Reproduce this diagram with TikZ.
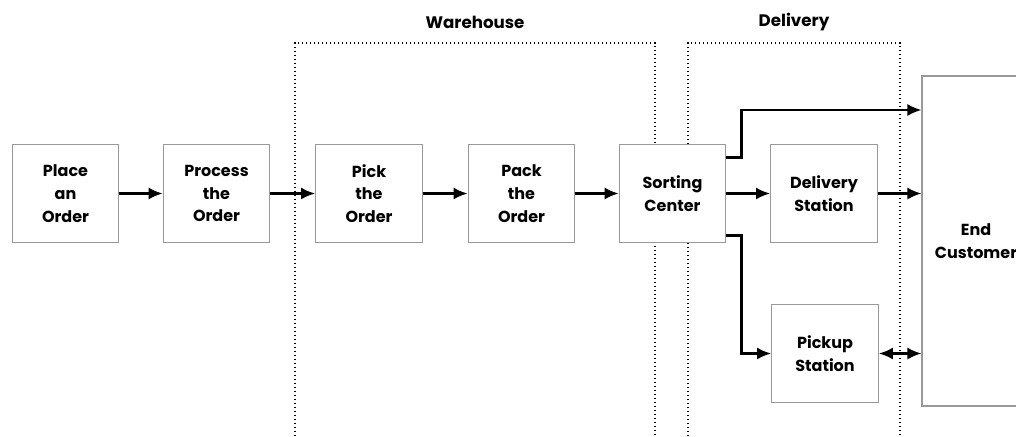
\documentclass[tikz,border=0pt]{standalone}
\usepackage{fontspec}
\setmainfont{Poppins}
\usetikzlibrary{arrows.meta}
\begin{document}
\begin{tikzpicture}[x=0.75pt,y=-0.75pt,
		box/.style={draw=gray!80,fill=white,line width=0.8pt,minimum width=80pt,minimum height=74pt,align=center,font=\fontsize{12}{17}\selectfont\bfseries},
		zone/.style={dotted,line width=1pt},
		tip/.style={Latex[length=10.5pt,width=9pt]},
		arr/.style={-{Latex[length=10.5pt,width=9pt]},line width=1.7pt},
		lbl/.style={font=\fontsize{12.5}{14}\selectfont\bfseries}]
	\useasboundingbox (0,0) rectangle (1016,436);
	% zones
	\draw[zone] (295,440) -- (295,43) -- (655,43) -- (655,440);
	\draw[zone] (688,440) -- (688,43) -- (900,43) -- (900,440);
	\node[lbl] (whlbl) at (475,22) {Warehouse};
	\node[lbl] (dllbl) at (794,22) {Delivery};
	% boxes
	\node[box] (place) at (65.5,193.5) {Place\\an\\Order};
	\node[box] (process) at (216.5,193.5) {Process\\the\\Order};
	\node[box] (pick) at (369,193.5) {Pick\\the\\Order};
	\node[box] (pack) at (521.5,193.5) {Pack\\the\\Order};
	\node[box] (sort) at (672.5,193.5) {Sorting\\Center};
	\node[box] (delst) at (824,193.5) {Delivery\\Station};
	\node[box] (pickst) at (825,353.5) {Pickup\\Station};
	\node[box,minimum width=81pt,minimum height=247.5pt] (endc) at (976,241) {End\\Customer};
	% arrows
	\draw[arr] (place) -- (process);
	\draw[arr] (process) -- (pick);
	\draw[arr] (pick) -- (pack);
	\draw[arr] (pack) -- (sort);
	\draw[arr] (sort) -- (delst);
	\draw[arr] (delst) -- (endc.west |- delst.east);
	\draw[arr] ([yshift=27pt]sort.east) -- ++(15,0) |- ([yshift=98.25pt]endc.west);
	\draw[arr] ([yshift=-31.5pt]sort.east) -- ++(15,0) |- (pickst.west);
	\draw[arr,{Latex[length=10.5pt,width=9pt]}-{Latex[length=10.5pt,width=9pt]}] (pickst.east) -- (endc.west |- pickst.east);
\end{tikzpicture}
\end{document}
